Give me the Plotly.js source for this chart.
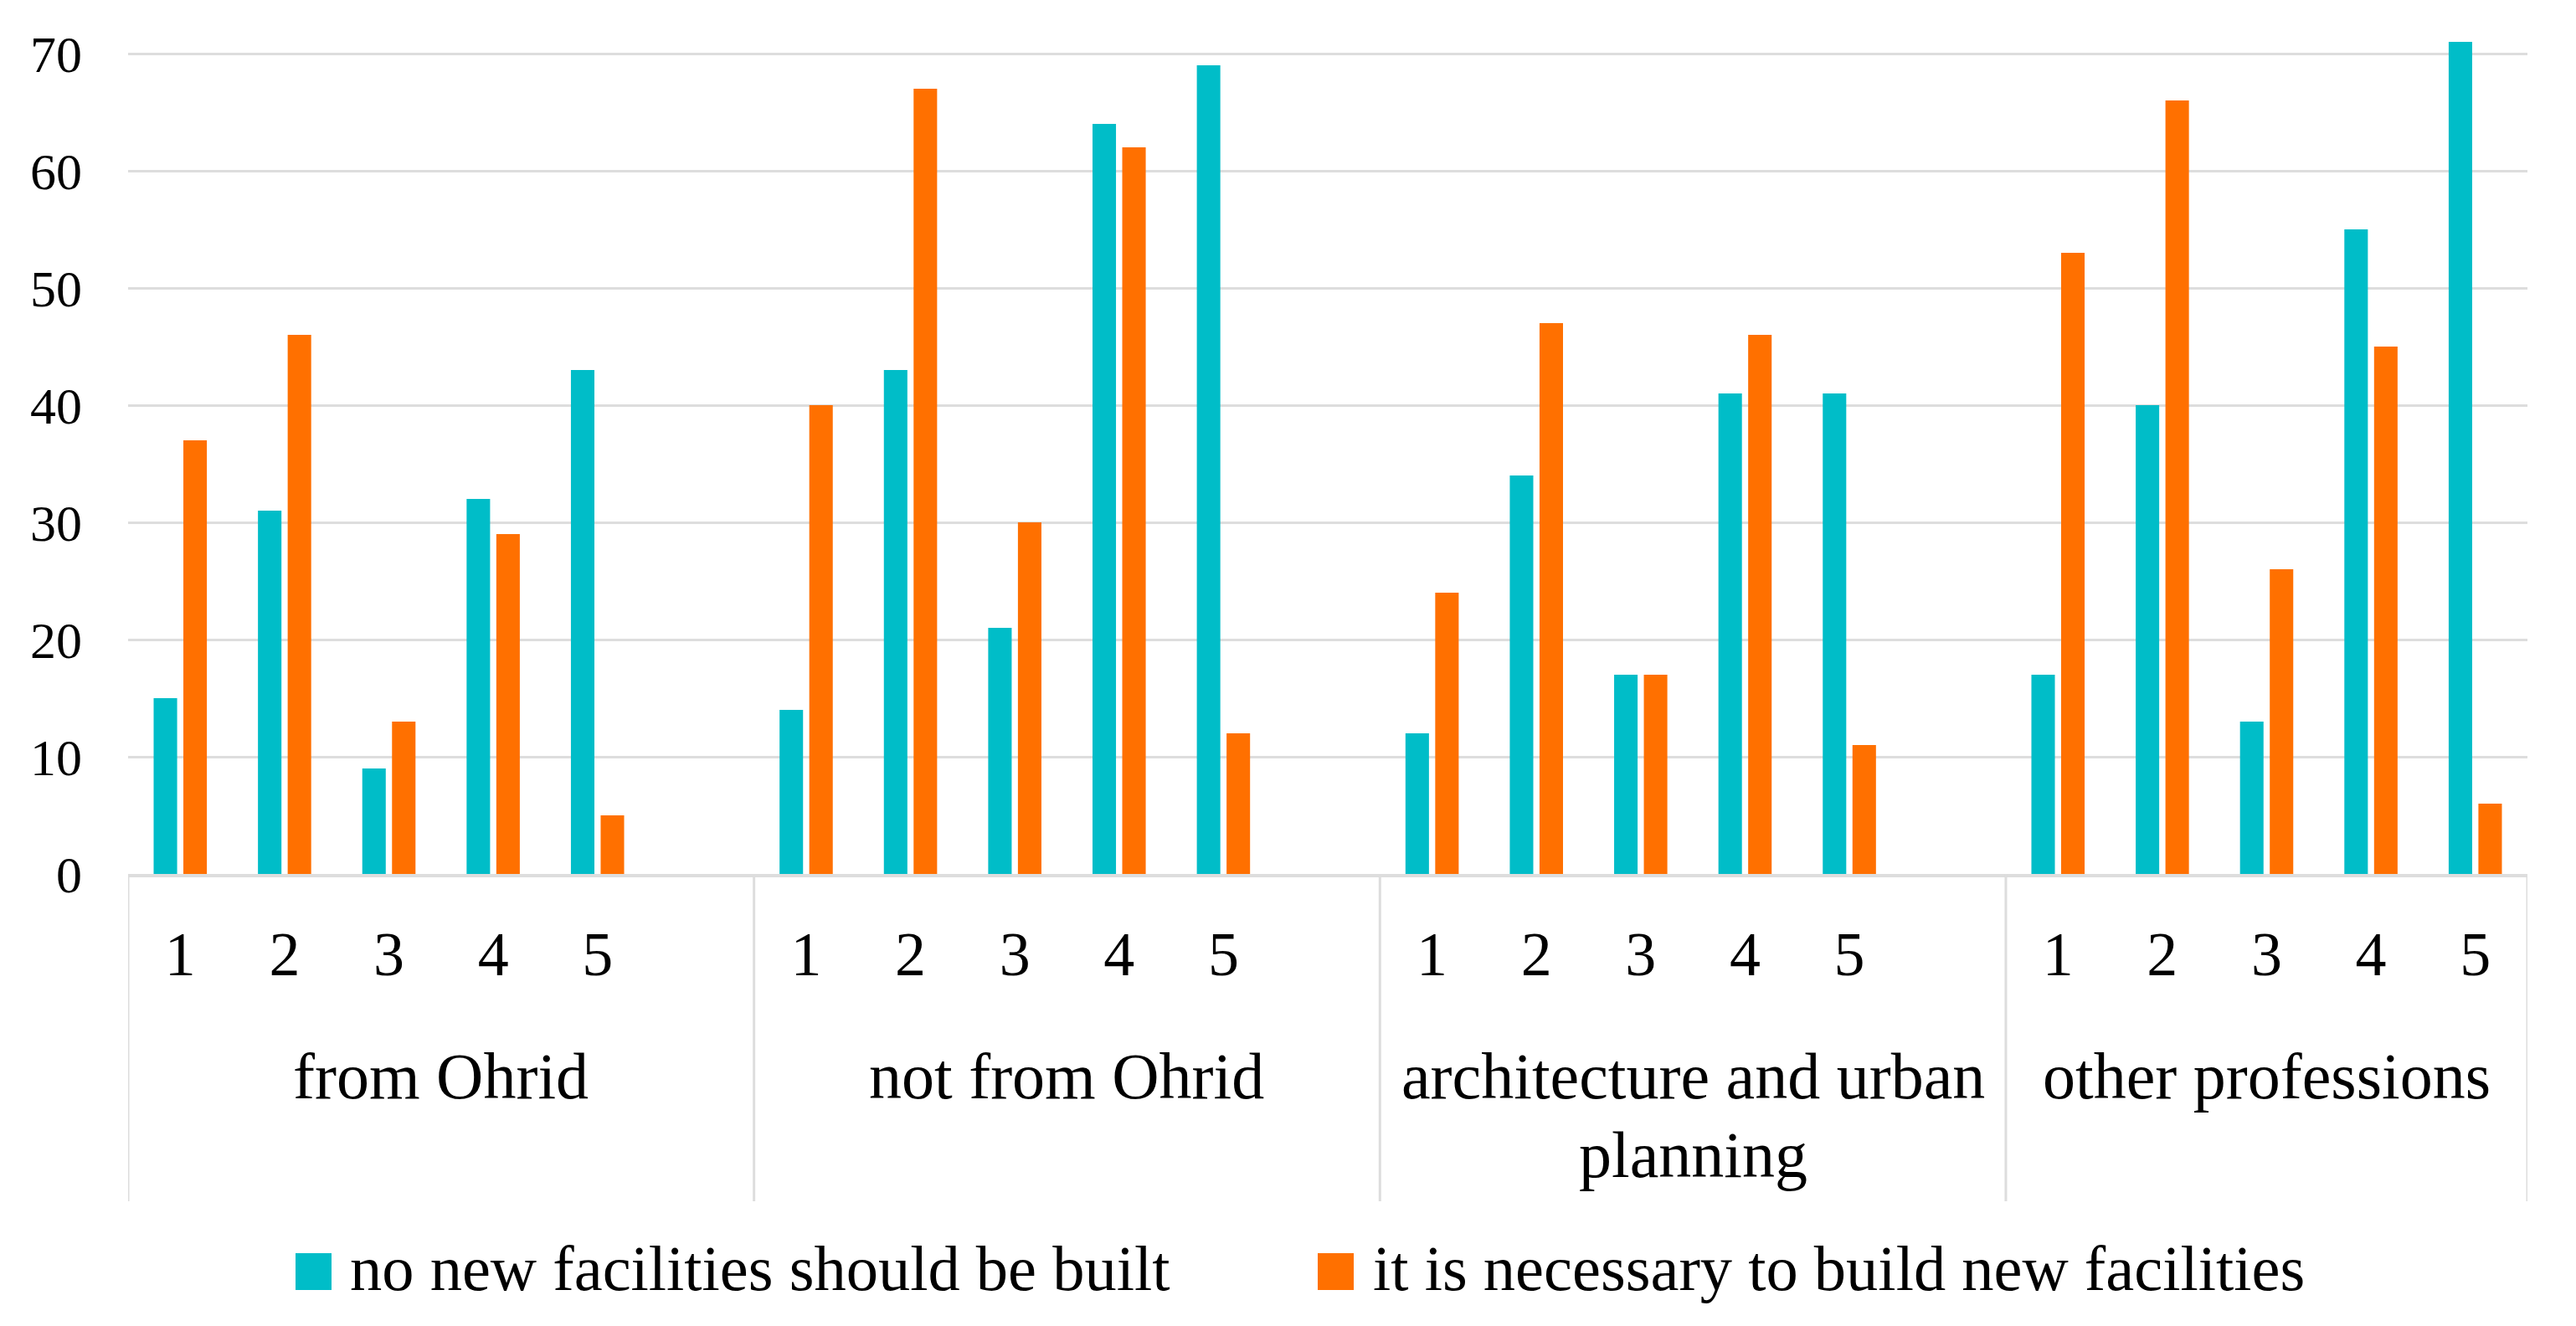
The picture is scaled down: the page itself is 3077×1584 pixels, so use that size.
<!DOCTYPE html>
<html>
<head>
<meta charset="utf-8">
<script src="https://cdn.plot.ly/plotly-3.0.1.min.js"></script>
<style>
  html, body { margin: 0; padding: 0; background: #ffffff; }
  #chart { width: 3077px; height: 1584px; }
</style>
</head>
<body>
<div id="chart"></div>
<script>
// ---- data ----
const groups = ["from Ohrid", "not from Ohrid", "architecture and urban planning", "other professions"];
const groupLines = [["from Ohrid"], ["not from Ohrid"], ["architecture and urban", "planning"], ["other professions"]];
const ratings = ["1", "2", "3", "4", "5"];
const seriesNames = ["no new facilities should be built", "it is necessary to build new facilities"];
const noNewFacilities = [15, 31, 9, 32, 43,  14, 43, 21, 64, 69,  12, 34, 17, 41, 41,  17, 40, 13, 55, 71];
const needNewFacilities = [37, 46, 13, 29, 5,  40, 67, 30, 62, 12,  24, 47, 17, 46, 11,  53, 66, 26, 45, 6];
const yTicks = [0, 10, 20, 30, 40, 50, 60, 70];

// ---- styling ----
const FONT = "Liberation Serif";
const TEAL = "#00BDC8";
const ORANGE = "#FF7000";
const GRID = "#DDDDDD";

const W = 3077, H = 1584;
const mL = 153, mR = 58, mT = 22, mB = 540;
const plotW = W - mL - mR, plotH = H - mT - mB;
const px2x = px => (px - mL) / plotW;
const px2y = py => (H - mB - py) / plotH;

// build categories (blank slot between groups, like the source sheet)
const cats = [], tickText = [], ys1 = [], ys2 = [], groupCenters = [], dividers = [];
let k = 0;
groups.forEach((g, gi) => {
  const start = cats.length;
  dividers.push(start - 0.5);
  ratings.forEach((r) => {
    cats.push(g + " | " + r);
    tickText.push(r);
    ys1.push(noNewFacilities[k]);
    ys2.push(needNewFacilities[k]);
    k++;
  });
  if (gi < groups.length - 1) {
    cats.push(g + " | ");
    tickText.push("");
    ys1.push(null);
    ys2.push(null);
  }
  groupCenters.push((start - 0.5 + cats.length - 0.5) / 2);
});
dividers.push(cats.length - 0.5);

const traces = [
  { type: "bar", name: seriesNames[0], x: cats, y: ys1, marker: { color: TEAL }, cliponaxis: false, hoverinfo: "y" },
  { type: "bar", name: seriesNames[1], x: cats, y: ys2, marker: { color: ORANGE }, cliponaxis: false, hoverinfo: "y" }
];

const shapes = [];
dividers.forEach(d => {
  shapes.push({ type: "line", xref: "x", yref: "paper", x0: d, x1: d, y0: 0, y1: px2y(1435),
    line: { color: GRID, width: 3 } });
});

const annotations = [];
const GFS = 78;
const LFS = 76.5;
groupLines.forEach((lines, gi) => {
  lines.forEach((t, li) => {
    const baseline = 1312 + li * 94;
    annotations.push({ xref: "x", yref: "paper", x: groupCenters[gi], y: px2y(baseline - 0.3375 * GFS),
      xanchor: "center", yanchor: "middle", showarrow: false, text: t,
      font: { family: FONT, size: GFS, color: "#000" } });
  });
});

// legend (drawn manually to match the large square keys)
const legendItems = [
  { sq: 353, tx: 416, color: TEAL, text: seriesNames[0] },
  { sq: 1574, tx: 1638, color: ORANGE, text: seriesNames[1] }
];
legendItems.forEach(it => {
  shapes.push({ type: "rect", xref: "paper", yref: "paper", x0: px2x(it.sq), x1: px2x(it.sq + 43),
    y0: px2y(1541), y1: px2y(1497), fillcolor: it.color, line: { width: 0 } });
  annotations.push({ xref: "paper", yref: "paper", x: px2x(it.tx), y: px2y(1541 - 0.3375 * LFS),
    xanchor: "left", yanchor: "middle", showarrow: false, text: it.text,
    font: { family: FONT, size: LFS, color: "#000" } });
});

const layout = {
  width: W, height: H,
  margin: { l: mL, r: mR, t: mT, b: mB },
  paper_bgcolor: "#ffffff", plot_bgcolor: "#ffffff",
  showlegend: false,
  barmode: "group", bargap: 0.43, bargroupgap: 0.21,
  font: { family: FONT, color: "#000" },
  xaxis: {
    type: "category", categoryorder: "array", categoryarray: cats,
    range: [-0.5, cats.length - 0.5],
    tickmode: "array", tickvals: cats, ticktext: tickText,
    ticks: "", showgrid: false, zeroline: false,
    showline: true, linecolor: GRID, linewidth: 4,
    tickfont: { family: FONT, size: 74, color: "#000" },
    ticklabelstandoff: 28, tickangle: 0
  },
  yaxis: {
    range: [0, 73], tickmode: "array", tickvals: yTicks,
    showgrid: true, gridcolor: GRID, gridwidth: 3,
    zeroline: false, showline: false, ticks: "",
    tickfont: { family: FONT, size: 62, color: "#000" },
    ticklabelstandoff: 54
  },
  shapes: shapes,
  annotations: annotations
};

Plotly.newPlot("chart", traces, layout, { staticPlot: true, displayModeBar: false });
</script>
</body>
</html>
